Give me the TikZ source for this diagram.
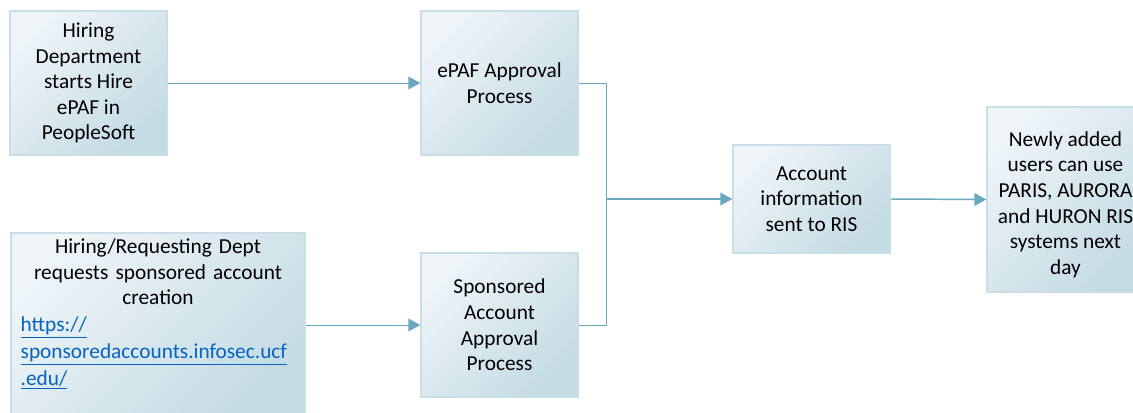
\documentclass[tikz,border=0pt]{standalone}
\usepackage{fontspec}
\setmainfont{Carlito}
\usetikzlibrary{arrows.meta}
\definecolor{boxlight}{HTML}{EEF4F8}
\definecolor{boxdark}{HTML}{C4DBE4}
\definecolor{boxedge}{HTML}{C9DEE7}
\definecolor{flow}{HTML}{6AA8BF}
\definecolor{linkblue}{HTML}{0563C1}
\newcommand{\weblink}[1]{\makebox[\linewidth][l]{\color{linkblue}\underline{#1}}}
\begin{document}
\begin{tikzpicture}[x=0.75pt,y=-0.75pt,
  procbox/.style={draw=boxedge, line width=1pt, top color=boxlight, bottom color=boxdark,
    shading angle=45, minimum width=117.75pt, minimum height=108pt, inner sep=0pt,
    align=center, font=\fontsize{16}{19.2}\selectfont, text=black},
  flowline/.style={draw=flow, line width=0.7pt},
  flowarrow/.style={flowline, -{Triangle[length=9pt,width=9.5pt]}},
  mainarrow/.style={flowarrow, line width=1.1pt}]
\useasboundingbox (0,0) rectangle (1133,412);
\clip (0,0) rectangle (1133,412);

% process boxes
\node[procbox] (hire) at (88.5,83) {Hiring\\Department\\starts Hire\\ePAF in\\PeopleSoft};
\node[procbox] (epaf) at (499.5,83) {ePAF Approval\\Process};
\node[procbox] (sponsor) at (499.5,325) {Sponsored\\Account\\Approval\\Process};
\node[procbox, minimum height=81pt] (ris) at (811.5,199) {Account\\information\\sent to RIS};
\node[procbox, minimum height=138.75pt] (users) at (1065.5,199.5)
  {\strut\\[-14pt]Newly added\\users can use\\PARIS, AURORA\\and HURON RIS\\systems next\\day};
\node[procbox, minimum width=220.5pt, minimum height=138pt, text width=206pt] (request) at (158,325)
  {Hiring/Requesting Dept\\requests sponsored account\\creation\\[1pt]
   \weblink{https://}\\[1pt]
   \weblink{sponsoredaccounts.infosec.ucf}\\[1pt]
   \weblink{.edu/}\\[-6pt]\strut};

% connectors
\coordinate (join) at (606,199);
\draw[flowarrow] (hire) -- (epaf);
\draw[flowarrow] (request.east |- sponsor.west) -- (sponsor.west);
\draw[flowline] (epaf.east) -| (join);
\draw[flowline] (sponsor.east) -| (join);
\draw[mainarrow] (join) -- (ris.west);
\draw[mainarrow] (ris.east) -- (users.west);
\end{tikzpicture}
\end{document}
